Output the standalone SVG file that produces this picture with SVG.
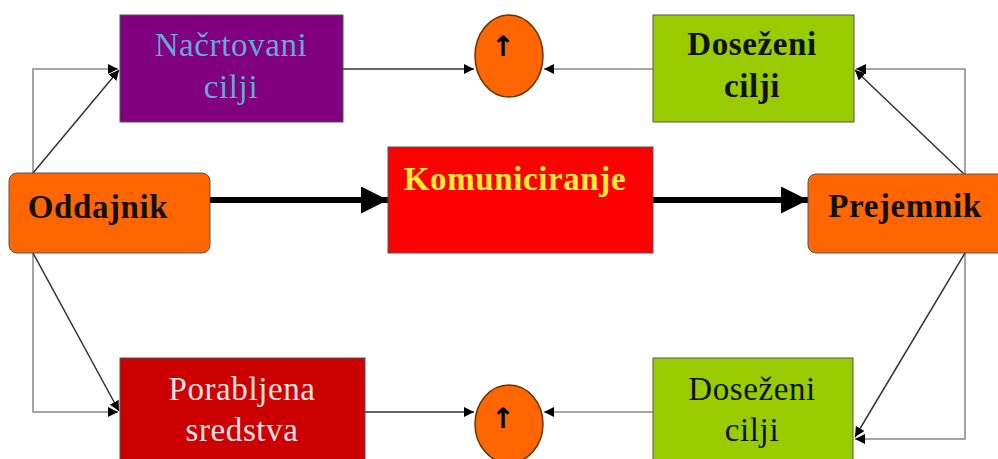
<svg xmlns="http://www.w3.org/2000/svg" width="998" height="459" viewBox="0 0 998 459">
<defs>
<marker id="ah" viewBox="0 0 10 10" refX="10" refY="5" markerWidth="10" markerHeight="10" markerUnits="userSpaceOnUse" orient="auto"><path d="M0,0 L10,5 L0,10 z" fill="#000"/></marker>
<marker id="ahb" viewBox="0 0 10 10" refX="10" refY="5" markerWidth="27" markerHeight="27" markerUnits="userSpaceOnUse" orient="auto"><path d="M0,0 L10,5 L0,10 z" fill="#000"/></marker>
</defs>
<style>
.t{font-family:"Liberation Serif","Times New Roman",serif;font-size:33px;text-anchor:middle;letter-spacing:0.6px}
.b{font-weight:bold}
.box{stroke:#555;stroke-width:1}
.c{fill:none;stroke:#333;stroke-width:1.5}
.g{fill:none;stroke:#888;stroke-width:1.5}
.thick{fill:none;stroke:#000;stroke-width:6}
.ell{fill:#ff6600;stroke:#663300;stroke-width:1.5}
.arr{font-family:"DejaVu Sans",sans-serif;font-size:28px;font-weight:bold;text-anchor:middle}
</style>
<rect width="998" height="459" fill="#fff"/>
<g id="connectors">
<polyline class="g" points="33,173 33,69 118,69" marker-end="url(#ah)"/>
<line class="c" x1="33" y1="173" x2="119" y2="70" marker-end="url(#ah)"/>
<polyline class="g" points="33,253 33,412 118,412" marker-end="url(#ah)"/>
<line class="c" x1="33" y1="253" x2="119" y2="411" marker-end="url(#ah)"/>
<line class="c" x1="343" y1="69" x2="474" y2="69" marker-end="url(#ah)"/>
<line class="g" x1="653" y1="69" x2="544" y2="69" marker-end="url(#ah)"/>
<line class="c" x1="365" y1="412" x2="474" y2="412" marker-end="url(#ah)"/>
<line class="g" x1="653" y1="412" x2="544" y2="412" marker-end="url(#ah)"/>
<polyline class="g" points="965,175 965,69 856,69" marker-end="url(#ah)"/>
<line class="c" x1="965" y1="175" x2="855" y2="70" marker-end="url(#ah)"/>
<polyline class="g" points="965,253 965,439 855,439" marker-end="url(#ah)"/>
<line class="c" x1="965" y1="253" x2="855" y2="437" marker-end="url(#ah)"/>
<line class="thick" x1="210" y1="200" x2="388" y2="200" marker-end="url(#ahb)"/>
<line class="thick" x1="653" y1="200" x2="808" y2="200" marker-end="url(#ahb)"/>
</g>
<g id="nacrtovani">
<rect class="box" x="120" y="15" width="223" height="107" fill="#800080"/>
<text class="t" x="231" y="56" fill="#6aa6d8">Načrtovani</text>
<text class="t" x="231" y="98" fill="#6aa6d8">cilji</text>
</g>
<g id="ellipse-top">
<ellipse class="ell" cx="509" cy="56" rx="34" ry="41"/>
<text class="arr" x="503" y="56">↑</text>
</g>
<g id="dosezeni-top">
<rect class="box" x="653" y="15" width="201" height="107" fill="#99cc00"/>
<text class="t b" x="752" y="55" fill="#111">Doseženi</text>
<text class="t b" x="752" y="97" fill="#111">cilji</text>
</g>
<g id="oddajnik">
<rect class="box" x="9" y="173" width="201" height="80" rx="8" fill="#ff6600"/>
<text class="t b" x="98" y="218" fill="#111">Oddajnik</text>
</g>
<g id="komuniciranje">
<rect class="box" x="388" y="147" width="265" height="106" fill="#ff0000"/>
<text class="t b" x="515" y="190" fill="#ffee33">Komuniciranje</text>
</g>
<g id="prejemnik">
<rect class="box" x="808" y="174" width="200" height="79" rx="8" fill="#ff6600"/>
<text class="t b" x="905" y="217" fill="#111">Prejemnik</text>
</g>
<g id="porabljena">
<rect class="box" x="120" y="358" width="245" height="110" fill="#cc0000"/>
<text class="t" x="242" y="400" fill="#f5e1e1">Porabljena</text>
<text class="t" x="242" y="441" fill="#f5e1e1">sredstva</text>
</g>
<g id="ellipse-bottom">
<ellipse class="ell" cx="509" cy="424" rx="34" ry="39"/>
<text class="arr" x="503" y="428">↑</text>
</g>
<g id="dosezeni-bottom">
<rect class="box" x="653" y="358" width="200" height="110" fill="#99cc00"/>
<text class="t" x="752" y="400" fill="#111">Doseženi</text>
<text class="t" x="752" y="441" fill="#111">cilji</text>
</g>
</svg>
